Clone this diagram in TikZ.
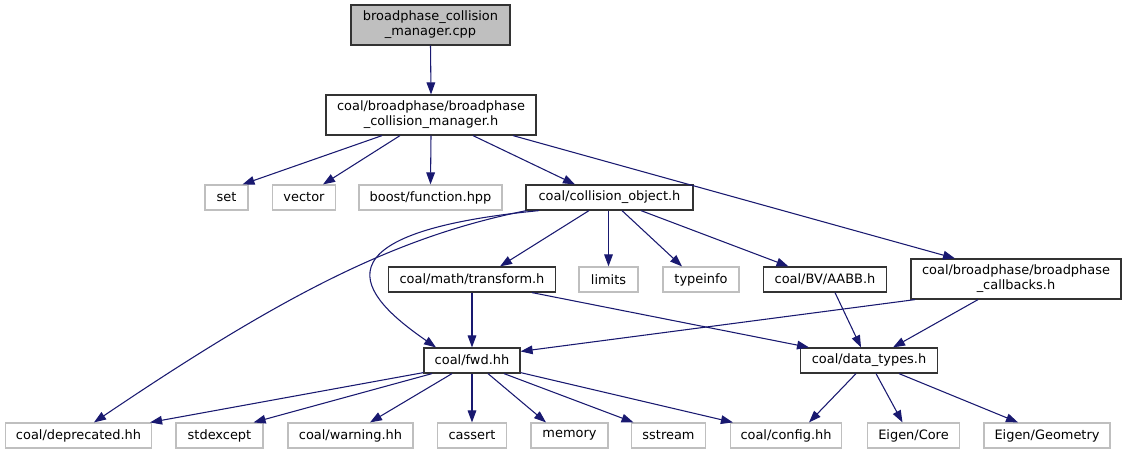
\documentclass[tikz,border=0pt]{standalone}
\usepackage{fontspec}
\setmainfont{DejaVu Sans}
\usetikzlibrary{arrows.meta,calc}
\definecolor{edgec}{HTML}{191970}
\definecolor{extc}{HTML}{BFBFBF}
\definecolor{intc}{HTML}{333333}
\begin{document}
\begin{tikzpicture}[x=0.75pt,y=-0.75pt,
 box/.style={draw=intc,line width=0.9pt,inner sep=0pt,minimum height=18.75pt,align=center,font=\fontsize{9.7}{11.25}\selectfont},
 ext/.style={box,draw=extc},
 two/.style={minimum height=30pt},
 root/.style={box,two,fill=extc},
 bw/.style={minimum width=#1*0.75pt},
 edge/.style={draw=edgec,line width=0.8pt,-{Triangle[length=9pt,width=6.5pt]}}]
\useasboundingbox (0,0) rectangle (1126,455);
\node[root,bw=159] (cpp) at (430.5,25) {broadphase\_collision\\\_manager.cpp};
\node[box,two,bw=210] (mgr) at (431,115) {coal/broadphase/broadphase\\\_collision\_manager.h};
\node[ext,bw=43] (set) at (226.5,197.5) {set};
\node[ext,bw=63] (vector) at (304,197.5) {vector};
\node[ext,bw=143] (boost) at (430.5,197.5) {boost/function.hpp};
\node[box,bw=167] (colobj) at (609.5,197.5) {coal/collision\_object.h};
\node[box,bw=167] (transform) at (472,279.5) {coal/math/transform.h};
\node[ext,bw=59] (limits) at (608.5,279.5) {limits};
\node[ext,bw=76] (typeinfo) at (701,279.5) {typeinfo};
\node[box,bw=123] (aabb) at (825,279.5) {coal/BV/AABB.h};
\node[box,two,bw=210] (callbacks) at (1016,279) {coal/broadphase/broadphase\\\_callbacks.h};
\node[box,bw=96] (fwd) at (472,360.5) {coal/fwd.hh};
\node[box,bw=137] (dtypes) at (869,360.5) {coal/data\_types.h};
\node[ext,bw=146] (deprecated) at (78.5,435.5) {coal/deprecated.hh};
\node[ext,bw=87] (stdexcept) at (219.5,435.5) {stdexcept};
\node[ext,bw=125] (warning) at (350.5,435.5) {coal/warning.hh};
\node[ext,bw=69] (cassert) at (472,435.5) {cassert};
\node[ext,bw=77] (memory) at (569.5,435.5) {memory};
\node[ext,bw=74] (sstream) at (668.5,435.5) {sstream};
\node[ext,bw=111] (config) at (786,435.5) {coal/config.hh};
\node[ext,bw=92] (core) at (913.5,435.5) {Eigen/Core};
\node[ext,bw=126] (geometry) at (1047,435.5) {Eigen/Geometry};
% edges
\draw[edge] (cpp.south) -- (mgr.north);
\draw[edge] ($(mgr.south)+(-49,0)$) -- ($(set.north)+(16,0)$);
\draw[edge] ($(mgr.south)+(-31,0)$) -- ($(vector.north)+(19,0)$);
\draw[edge] (mgr.south) -- (boost.north);
\draw[edge] ($(mgr.south)+(42,0)$) -- ($(colobj.north)+(-34.5,0)$);
\draw[edge] ($(mgr.south)+(82,0)$) -- ($(callbacks.north)+(-61,0)$);
\draw[edge] ($(colobj.south)+(-20.5,0)$) -- ($(transform.north)+(28,0)$);
\draw[edge] ($(colobj.south)+(-1,0)$) -- (limits.north);
\draw[edge] ($(colobj.south)+(12.5,0)$) -- ($(typeinfo.north)+(-19,0)$);
\draw[edge] ($(colobj.south)+(31.5,0)$) -- ($(aabb.north)+(-36.5,0)$);
\draw[edge] ($(colobj.south west)+(1,0)$) .. controls (400,236) and (290,290) .. ($(deprecated.north)+(15.5,0)$);
\draw[edge] ($(colobj.south)+(-70.5,0)$) .. controls (290,235) and (375,305) .. ($(fwd.north)+(-36,0)$);
\draw[edge] (transform.south) -- (fwd.north);
\draw[edge] ($(transform.south)+(60,0)$) -- ($(dtypes.north)+(-60,0)$);
\draw[edge] ($(aabb.south)+(10,0)$) -- ($(dtypes.north)+(-8,0)$);
\draw[edge] ($(callbacks.south)+(-38,0)$) -- ($(dtypes.north)+(24,0)$);
\draw[edge] ($(callbacks.south)+(-101,0)$) -- ($(fwd.north east)+(0,4)$);
\draw[edge] ($(fwd.south west)+(0,-1)$) -- ($(deprecated.north east)+(-2,0)$);
\draw[edge] ($(fwd.south)+(-40,0)$) -- ($(stdexcept.north east)+(-10,0)$);
\draw[edge] ($(fwd.south)+(-20,0)$) -- ($(warning.north)+(19.5,0)$);
\draw[edge] (fwd.south) -- (cassert.north);
\draw[edge] ($(fwd.south)+(16,0)$) -- ($(memory.north)+(-23.5,0)$);
\draw[edge] ($(fwd.south)+(32,0)$) -- ($(sstream.north)+(-35,0)$);
\draw[edge] ($(fwd.south east)+(0,-1)$) -- ($(config.north west)+(3,0)$);
\draw[edge] ($(dtypes.south)+(-13,0)$) -- ($(config.north)+(23,0)$);
\draw[edge] ($(dtypes.south)+(7,0)$) -- ($(core.north)+(-11,0)$);
\draw[edge] ($(dtypes.south)+(30,0)$) -- ($(geometry.north)+(-29,0)$);
\end{tikzpicture}
\end{document}
